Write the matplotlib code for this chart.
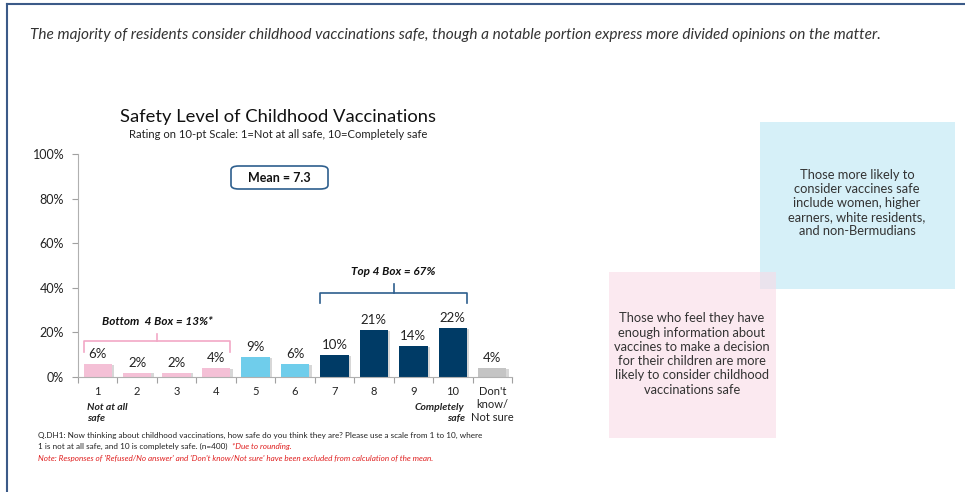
import matplotlib.pyplot as plt
from matplotlib.patches import FancyBboxPatch, Rectangle
from matplotlib.lines import Line2D

plt.rcParams['font.family'] = ['Lato', 'DejaVu Sans']

categories = ['1', '2', '3', '4', '5', '6', '7', '8', '9', '10', "Don't\nknow/\nNot sure"]
values = [6, 2, 2, 4, 9, 6, 10, 21, 14, 22, 4]
groups = ['bottom'] * 4 + ['mid'] * 2 + ['top'] * 4 + ['dk']
group_colors = {'bottom': '#f4c0d6', 'mid': '#6fcdeb', 'top': '#003b66', 'dk': '#c4c4c4'}
yticks = [0, 20, 40, 60, 80, 100]

W, H = 965, 492
fig = plt.figure(figsize=(W / 100, H / 100), dpi=100)


def fx(x):
    return x / W


def fy(y):
    return 1 - y / H


# frame lines of the slide
fig.add_artist(Line2D([fx(7), fx(965)], [fy(4), fy(4)], color='#3b5a88', lw=1.5))
fig.add_artist(Line2D([fx(7), fx(7)], [fy(4), fy(492)], color='#3b5a88', lw=1.5))

fig.text(fx(30), fy(35), 'The majority of residents consider childhood vaccinations safe, though a notable '
         'portion express more divided opinions on the matter.',
         fontsize=11.1, style='italic', color='#333333', va='center')

ax = fig.add_axes([fx(78), fy(377), fx(512) - fx(78), fy(154) - fy(377)])
bw = 0.72
for i, (v, g) in enumerate(zip(values, groups)):
    # soft shadow
    ax.bar(i + 0.06, v, width=bw, bottom=-0.4, color='#b0b0b0', alpha=0.5, zorder=1)
    ax.bar(i, v, width=bw, color=group_colors[g], zorder=2)
    ax.text(i, v + 1.8, f'{v}%', ha='center', va='bottom', fontsize=9.5, color='#222222')

ax.set_xlim(-0.5, len(categories) - 0.5)
ax.set_ylim(0, 100)
ax.set_yticks(yticks)
ax.set_yticklabels([f'{t}%' for t in yticks], fontsize=9, color='#222222')
ax.set_xticks([i + 0.5 for i in range(-1, len(categories))])
ax.set_xticklabels([])
ax.tick_params(axis='x', length=4, color='#a0a0a0')
ax.tick_params(axis='y', length=4, color='#a0a0a0', pad=6)
for i, c in enumerate(categories):
    ax.text(i, -4, c, ha='center', va='top', fontsize=8, color='#222222', linespacing=1.25)
ax.text(-0.28, -11.5, 'Not at all\nsafe', ha='left', va='top', fontsize=7.5,
        style='italic', weight='bold', color='#222222', linespacing=1.4)
ax.text(9.3, -11.5, 'Completely\nsafe', ha='right', va='top', fontsize=7.5,
        style='italic', weight='bold', color='#222222', linespacing=1.4)
for s in ['top', 'right']:
    ax.spines[s].set_visible(False)
for s in ['left', 'bottom']:
    ax.spines[s].set_color('#b0b0b0')


# brackets for top-4 and bottom-4 boxes
def bracket(x0, x1, y, yend, ytip, color):
    xm = (x0 + x1) / 2
    ax.plot([x0, x0, x1, x1], [yend, y, y, yend], color=color, lw=1.2, clip_on=False,
            solid_joinstyle='round')
    ax.plot([xm, xm], [y, ytip], color=color, lw=1.2, clip_on=False)


bracket(6 - bw / 2, 9 + bw / 2, 37.5, 33, 41.5, '#2e5f8e')
ax.text(7.5, 45, 'Top 4 Box = 67%', ha='center', va='bottom', fontsize=8.5,
        style='italic', weight='bold', color='#111111')
bracket(0 - bw / 2, 3 + bw / 2, 16, 11, 19.5, '#f2a8c6')
ax.text(1.5, 22.5, 'Bottom  4 Box = 13%*', ha='center', va='bottom', fontsize=8.5,
        style='italic', weight='bold', color='#111111')

# title and mean box
fig.text(fx(278), fy(117), 'Safety Level of Childhood Vaccinations', ha='center', va='center',
         fontsize=13.2, color='#111111')
fig.text(fx(278), fy(134), 'Rating on 10-pt Scale: 1=Not at all safe, 10=Completely safe',
         ha='center', va='center', fontsize=8.1, color='#222222')
fig.add_artist(FancyBboxPatch((fx(231), fy(189)), fx(97), fy(166) - fy(189),
                              boxstyle='round,pad=0,rounding_size=0.008',
                              transform=fig.transFigure, fc='white', ec='#2e5f8e', lw=1.2))
fig.text(fx(279), fy(177.5), 'Mean = 7.3', ha='center', va='center', fontsize=9,
         weight='bold', color='#111111')

# footnotes
fig.text(fx(38), fy(435), 'Q.DH1: Now thinking about childhood vaccinations, how safe do you think they are? '
         'Please use a scale from 1 to 10, where', fontsize=5.9, color='#222222', va='center')
t = fig.text(fx(38), fy(446.5), '1 is not at all safe, and 10 is completely safe. (n=400)  ',
             fontsize=5.9, color='#222222', va='center')
fig.canvas.draw()
bb = t.get_window_extent()
fig.text(bb.x1 / W, fy(446.5), '*Due to rounding.', fontsize=5.9, color='#e02020',
         style='italic', va='center')
fig.text(fx(38), fy(458), "Note: Responses of 'Refused/No answer' and 'Don't know/Not sure' have been "
         'excluded from calculation of the mean.', fontsize=5.9, color='#e02020',
         style='italic', va='center')

# side callout boxes
fig.add_artist(Rectangle((fx(760), fy(289)), fx(955) - fx(760), fy(122) - fy(289),
                         transform=fig.transFigure, fc='#d6f0f8', ec='none'))
fig.add_artist(Rectangle((fx(609), fy(438)), fx(776) - fx(609), fy(272) - fy(438),
                         transform=fig.transFigure, fc='#f9dbe6', ec='none', alpha=0.6))
fig.text(fx(857), fy(203), 'Those more likely to\nconsider vaccines safe\ninclude women, higher\n'
         'earners, white residents,\nand non-Bermudians', ha='center', va='center',
         fontsize=9.3, color='#333333', linespacing=1.22)
fig.text(fx(692), fy(354), 'Those who feel they have\nenough information about\nvaccines to make a decision\n'
         'for their children are more\nlikely to consider childhood\nvaccinations safe',
         ha='center', va='center', fontsize=9.3, color='#333333', linespacing=1.22)

fig.savefig('out.png', dpi=100, facecolor='white')
